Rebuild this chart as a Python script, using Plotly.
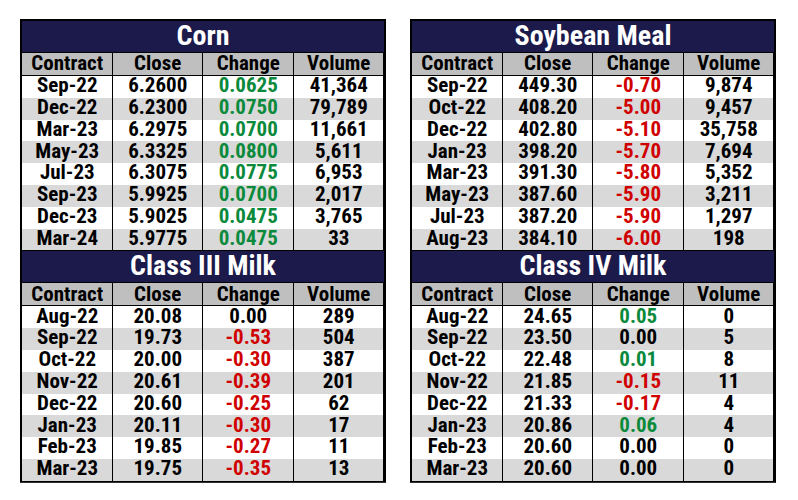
import plotly.graph_objects as go

# ---- data ----
columns = ["Contract", "Close", "Change", "Volume"]

corn_title = "Corn"
corn_contract = ["Sep-22", "Dec-22", "Mar-23", "May-23", "Jul-23", "Sep-23", "Dec-23", "Mar-24"]
corn_close = [6.2600, 6.2300, 6.2975, 6.3325, 6.3075, 5.9925, 5.9025, 5.9775]
corn_change = [0.0625, 0.0750, 0.0700, 0.0800, 0.0775, 0.0700, 0.0475, 0.0475]
corn_volume = [41364, 79789, 11661, 5611, 6953, 2017, 3765, 33]

soy_title = "Soybean Meal"
soy_contract = ["Sep-22", "Oct-22", "Dec-22", "Jan-23", "Mar-23", "May-23", "Jul-23", "Aug-23"]
soy_close = [449.30, 408.20, 402.80, 398.20, 391.30, 387.60, 387.20, 384.10]
soy_change = [-0.70, -5.00, -5.10, -5.70, -5.80, -5.90, -5.90, -6.00]
soy_volume = [9874, 9457, 35758, 7694, 5352, 3211, 1297, 198]

milk3_title = "Class III Milk"
milk3_contract = ["Aug-22", "Sep-22", "Oct-22", "Nov-22", "Dec-22", "Jan-23", "Feb-23", "Mar-23"]
milk3_close = [20.08, 19.73, 20.00, 20.61, 20.60, 20.11, 19.85, 19.75]
milk3_change = [0.00, -0.53, -0.30, -0.39, -0.25, -0.30, -0.27, -0.35]
milk3_volume = [289, 504, 387, 201, 62, 17, 11, 13]

milk4_title = "Class IV Milk"
milk4_contract = ["Aug-22", "Sep-22", "Oct-22", "Nov-22", "Dec-22", "Jan-23", "Feb-23", "Mar-23"]
milk4_close = [24.65, 23.50, 22.48, 21.85, 21.33, 20.86, 20.60, 20.60]
milk4_change = [0.05, 0.00, 0.01, -0.15, -0.17, 0.06, 0.00, 0.00]
milk4_volume = [0, 5, 8, 11, 4, 4, 0, 0]

# ---- style ----
# page body has an 8px margin, so the figure is 8px smaller and shifted
W, H = 782, 484
NAVY = "#1b1a4b"
HEAD_GRAY = "#bfbfbf"
ROW_GRAY = "#d9d9d9"
GREEN = "#0b8a3c"
RED = "#d00000"
FONT = "Liberation Sans Narrow, Roboto Condensed, DejaVu Sans Condensed, sans-serif"
FS = 21
TITLE_FS = 28

TOP = 13
TITLE_H = 31
SEP = 1
HEAD_H = 22
ROW_H = 21.8
BORDER = 2
COL_W = 90.5
SIDE_X0 = [14, 404]
TITLE_DY = 1.5   # small nudges of the text inside its band
HEAD_DY = 1


def block(title, contract, close, change, volume, dec):
    return dict(
        title=title,
        contract=contract,
        close=[f"{v:.{dec}f}" for v in close],
        change=[f"{v:.{dec}f}" for v in change],
        change_color=[GREEN if v > 0 else RED if v < 0 else "black" for v in change],
        volume=[f"{v:,}" for v in volume],
    )


sides = [
    [block(corn_title, corn_contract, corn_close, corn_change, corn_volume, 4),
     block(milk3_title, milk3_contract, milk3_close, milk3_change, milk3_volume, 2)],
    [block(soy_title, soy_contract, soy_close, soy_change, soy_volume, 2),
     block(milk4_title, milk4_contract, milk4_close, milk4_change, milk4_volume, 2)],
]

fig = go.Figure()
bottom = None

for s, blocks in enumerate(sides):
    xa = "x" if s == 0 else "x2"
    # bands from top to bottom
    kinds, heights = [], []
    for b in blocks:
        kinds += ["title", "sep", "head", "sep"]
        heights += [TITLE_H, SEP, HEAD_H, SEP]
        n = len(b["contract"])
        kinds += ["row%d" % (i % 2) for i in range(n)]
        heights += [ROW_H] * n
        kinds.append("sep")
        heights.append(SEP)
    kinds.pop()
    heights.pop()

    edges = [TOP]
    for h in heights:
        edges.append(edges[-1] + h)
    centers = [(a + b) / 2 for a, b in zip(edges[:-1], edges[1:])]
    bottom = edges[-1]

    code = {"row0": 0, "row1": 1, "head": 2}
    grid_z = [[code.get(k)] * 4 for k in kinds]
    title_z = [[0 if k == "title" else None] for k in kinds]

    fig.add_trace(go.Heatmap(
        x=[-0.5, 0.5, 1.5, 2.5, 3.5], y=edges, z=grid_z,
        zmin=0, zmax=2, xgap=1, ygap=0, showscale=False, hoverinfo="skip",
        colorscale=[[0, "#ffffff"], [0.33, "#ffffff"], [0.33, ROW_GRAY], [0.67, ROW_GRAY],
                    [0.67, HEAD_GRAY], [1, HEAD_GRAY]],
        xaxis=xa, yaxis="y"))
    fig.add_trace(go.Heatmap(
        x=[-0.5, 3.5], y=edges, z=title_z, zmin=0, zmax=1, showscale=False,
        hoverinfo="skip", colorscale=[[0, NAVY], [1, NAVY]], xaxis=xa, yaxis="y"))

    # texts
    idx = 0
    for b in blocks:
        t_y = centers[idx] + TITLE_DY
        h_y = centers[idx + 2] + HEAD_DY
        r_y = centers[idx + 4: idx + 4 + len(b["contract"])]
        idx += 4 + len(b["contract"]) + 1

        fig.add_trace(go.Scatter(
            x=[1.5], y=[t_y], text=[b["title"]], mode="text", hoverinfo="skip",
            textfont=dict(family=FONT, size=TITLE_FS, color="white", weight="bold"),
            cliponaxis=False, showlegend=False, xaxis=xa, yaxis="y"))
        fig.add_trace(go.Scatter(
            x=[0, 1, 2, 3], y=[h_y] * 4, text=columns, mode="text", hoverinfo="skip",
            textfont=dict(family=FONT, size=FS, color="black", weight="bold"),
            cliponaxis=False, showlegend=False, xaxis=xa, yaxis="y"))
        for c, key in enumerate(["contract", "close", "change", "volume"]):
            colors = b["change_color"] if key == "change" else "black"
            fig.add_trace(go.Scatter(
                x=[c] * len(r_y), y=r_y, text=b[key], mode="text", hoverinfo="skip",
                textfont=dict(family=FONT, size=FS, color=colors, weight="bold"),
                cliponaxis=False, showlegend=False, xaxis=xa, yaxis="y"))

pad = BORDER / COL_W
axis_common = dict(visible=False, showgrid=False, zeroline=False, fixedrange=True,
                   range=[-0.5 - pad, 3.5 + pad])
fig.update_layout(
    width=W, height=H,
    margin=dict(l=0, r=0, t=0, b=0),
    paper_bgcolor="white",
    plot_bgcolor="black",
    showlegend=False,
    xaxis=dict(domain=[(SIDE_X0[0] - BORDER) / W, (SIDE_X0[0] + 4 * COL_W + BORDER) / W],
               **axis_common),
    xaxis2=dict(domain=[(SIDE_X0[1] - BORDER) / W, (SIDE_X0[1] + 4 * COL_W + BORDER) / W],
                anchor="y", **axis_common),
    yaxis=dict(domain=[1 - (bottom + BORDER) / H, 1 - (TOP - BORDER) / H],
               range=[bottom + BORDER, TOP - BORDER],
               visible=False, showgrid=False, zeroline=False, fixedrange=True),
)

fig.write_html("out.html")
